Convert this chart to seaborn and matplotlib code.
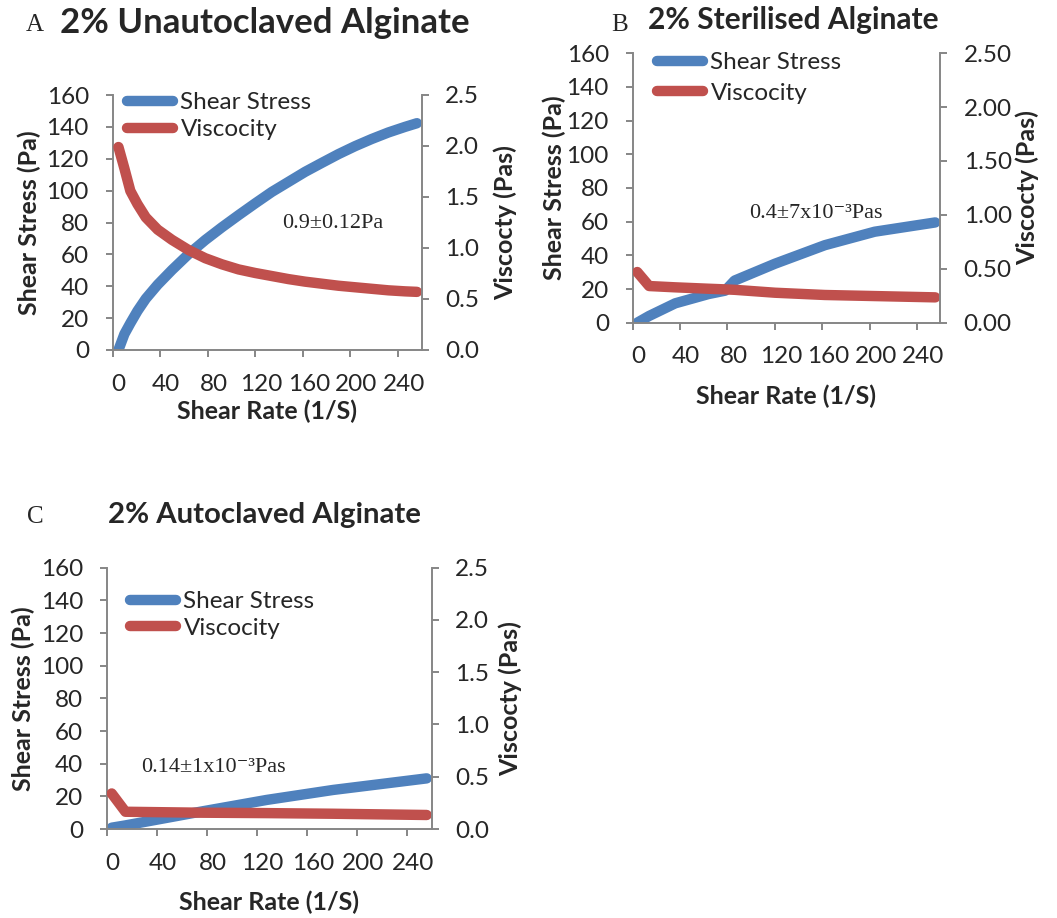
import matplotlib
matplotlib.use('Agg')
import matplotlib.pyplot as plt
import matplotlib.transforms as mtransforms
import seaborn as sns

# A - 2% unautoclaved alginate
rate_a = [5, 10, 15, 21, 28, 38, 50, 64, 78, 92, 106, 120, 134, 148, 162, 176, 190,
          204, 218, 232, 246, 256]
stress_a = [0, 10, 16.8, 24.5, 32.2, 41, 50.2, 60.2, 69, 77, 84.6, 92, 99.2, 105.5,
            111.8, 117.4, 122.9, 127.9, 132.4, 136.5, 140, 142.3]
visc_a = [1.99, 1.78, 1.56, 1.43, 1.30, 1.18, 1.08, 0.98, 0.90, 0.84, 0.79, 0.755, 0.725,
          0.695, 0.67, 0.65, 0.63, 0.615, 0.60, 0.585, 0.575, 0.57]

# B - 2% sterilised alginate
rate_b = [4, 14, 36, 64, 78, 86, 120, 162, 204, 255]
stress_b = [0, 4, 11.5, 17, 19, 25, 35, 46, 54, 59.5]
visc_b = [0.47, 0.34, 0.328, 0.315, 0.309, 0.305, 0.278, 0.257, 0.247, 0.235]

# C - 2% autoclaved alginate
rate_c = [4, 15, 75, 128, 181, 256]
stress_c = [0.8, 2.2, 10.6, 17.8, 23.9, 31]
visc_c = [0.34, 0.165, 0.156, 0.152, 0.146, 0.134]

rate_ticks = [0, 40, 80, 120, 160, 200, 240]
stress_ticks = [0, 20, 40, 60, 80, 100, 120, 140, 160]
visc_ticks = [0, 0.5, 1.0, 1.5, 2.0, 2.5]

BLUE = '#4F81BD'
RED = '#C0504D'
GREY = '#868686'

sns.set_style('ticks')
plt.rcParams['font.family'] = ['Lato', 'DejaVu Sans']
SERIF = ['Liberation Serif', 'DejaVu Serif']

fig = plt.figure(figsize=(10.57, 9.18), dpi=100)


def px(x, y):
    return x / 1057, 1 - y / 918


def panel(rect, rate, stress, visc, xmax, vfmt, leg_xy, leg_space,
          xlabelpad, llabelpad, rlabelpad):
    ax = fig.add_axes(rect)
    ax2 = ax.twinx()
    sns.lineplot(x=rate, y=stress, ax=ax, color=BLUE, lw=7.5, solid_capstyle='round',
                 solid_joinstyle='round', label='Shear Stress', legend=False)
    sns.lineplot(x=rate, y=visc, ax=ax2, color=RED, lw=7.5, solid_capstyle='round',
                 solid_joinstyle='round', label='Viscocity', legend=False)
    ax.set_xlim(0, xmax)
    ax.set_ylim(0, 160)
    ax2.set_ylim(0, 2.5)
    ax.set_xticks(rate_ticks)
    ax.set_yticks(stress_ticks)
    ax2.set_yticks(visc_ticks)
    ax2.set_yticklabels([vfmt % v for v in visc_ticks])
    for a in (ax, ax2):
        a.spines['top'].set_visible(False)
        for s in a.spines.values():
            s.set_color(GREY)
            s.set_linewidth(1.4)
        a.tick_params(direction='out', length=5, width=1.4, color=GREY,
                      labelsize=17.5, pad=12)
    ax.spines['right'].set_visible(False)
    ax2.spines['left'].set_visible(False)
    ax2.spines['bottom'].set_visible(False)
    # excel puts the category labels a little right of the tick
    shift = mtransforms.ScaledTranslation(0.06, 0, fig.dpi_scale_trans)
    for lab in ax.get_xticklabels():
        lab.set_transform(lab.get_transform() + shift)
    ax.set_xlabel('Shear Rate (1/S)', fontsize=18, fontweight='bold', labelpad=xlabelpad)
    ax.set_ylabel('Shear Stress (Pa)', fontsize=18, fontweight='bold', labelpad=llabelpad)
    ax2.set_ylabel('Viscocty (Pas)', fontsize=18, fontweight='bold', labelpad=rlabelpad)
    h1, l1 = ax.get_legend_handles_labels()
    h2, l2 = ax2.get_legend_handles_labels()
    ax2.legend(h1 + h2, l1 + l2, loc='upper left', bbox_to_anchor=px(*leg_xy),
               bbox_transform=fig.transFigure, frameon=False, fontsize=17.5,
               borderpad=0, borderaxespad=0, handlelength=1.9, handletextpad=0.3,
               labelspacing=leg_space)
    return ax


panel([112.5 / 1057, 1 - 350 / 918, 309.2 / 1057, 255 / 918],
      rate_a, stress_a, visc_a, 260, '%.1f', (127, 92), 0.26, 3.5, 4, 10)
panel([632.5 / 1057, 1 - 322.7 / 918, 307.5 / 1057, 269.6 / 918],
      rate_b, stress_b, visc_b, 259, '%.2f', (657, 52), 0.4, 12.5, 0, 3)
panel([106.7 / 1057, 1 - 829 / 918, 325 / 1057, 261.3 / 918],
      rate_c, stress_c, visc_c, 260, '%.1f', (130, 591), 0.23, 12.5, 4, 6.5)

# panel letters and titles
fig.text(*px(35, 25), 'A', family=SERIF, fontsize=18, ha='center', va='center')
fig.text(*px(620, 25), 'B', family=SERIF, fontsize=18, ha='center', va='center')
fig.text(*px(35, 517), 'C', family=SERIF, fontsize=18, ha='center', va='center')
fig.text(*px(264.5, 23), '2% Unautoclaved Alginate', fontsize=25, fontweight='bold',
         ha='center', va='center')
fig.text(*px(793, 20), '2% Sterilised Alginate', fontsize=21.5, fontweight='bold',
         ha='center', va='center')
fig.text(*px(264, 515), '2% Autoclaved Alginate', fontsize=21.2, fontweight='bold',
         ha='center', va='center')

# fitted values written on the plots
fig.text(*px(332.5, 223), '0.9±0.12Pa', family=SERIF, fontsize=16, ha='center', va='center')
fig.text(*px(816, 213), '0.4±7x10⁻³Pas', family=SERIF, fontsize=16, ha='center', va='center')
fig.text(*px(213, 767), '0.14±1x10⁻³Pas', family=SERIF, fontsize=16, ha='center', va='center')

fig.savefig('out.png', dpi=100)
